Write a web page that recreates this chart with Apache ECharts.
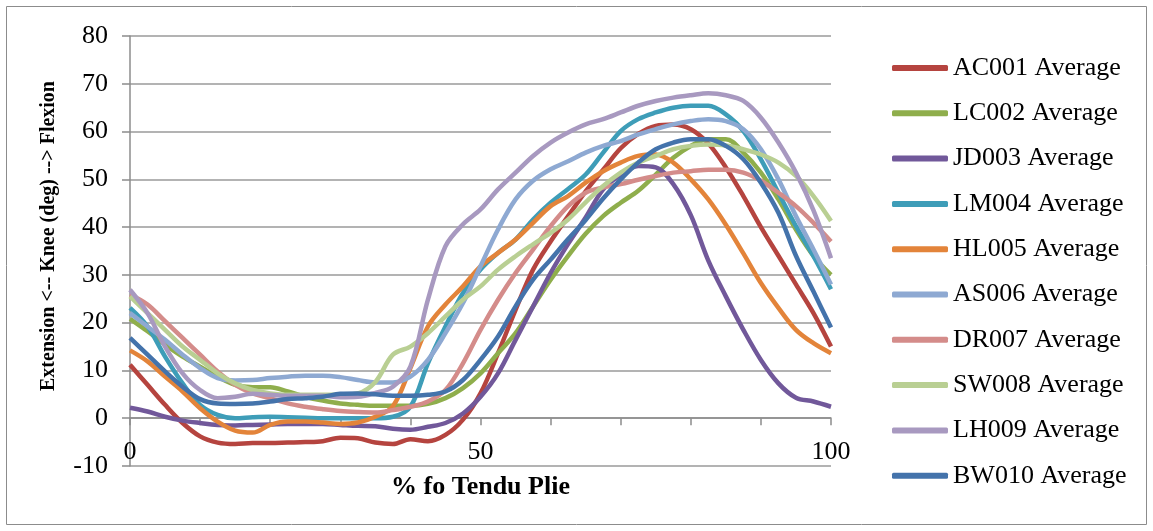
<!DOCTYPE html>
<html>
<head>
<meta charset="utf-8">
<title>% fo Tendu Plie</title>
<script src="https://cdn.jsdelivr.net/npm/echarts@6/dist/echarts.min.js"></script>
<style>
  html, body { margin: 0; padding: 0; background: #fff; }
  #chart { width: 1153px; height: 531px; }
</style>
</head>
<body>
<div id="chart"></div>
<script>
// % of the tendu plie cycle
const pct = [0, 2.5, 5, 7.5, 10, 12.5, 15, 17.5, 20, 22.5, 25, 27.5, 30, 32.5, 35, 37.5, 40, 42.5, 45, 47.5,
  50, 52.5, 55, 57.5, 60, 62.5, 65, 67.5, 70, 72.5, 75, 77.5, 80, 82.5, 85, 87.5, 90, 92.5, 95, 97.5, 100]

// knee angle (deg)
const ac001 = [11.2, 7, 2.8, -1, -3.8, -5.1, -5.4, -5.2, -5.2, -5.1, -5, -4.8, -4.1, -4.2, -5.1, -5.4, -4.4, -4.8, -3.5, -0.3,
  5.2, 13.6, 22.7, 31.1, 37, 42.3, 47.5, 52, 56.5, 59.5, 61.2, 61.5, 60.5, 57.5, 52.5, 46.5, 40, 34, 28, 22, 15]
const lc002 = [20.8, 18.2, 15.4, 12.9, 10.8, 8.7, 7, 6.5, 6.5, 5.6, 4.5, 3.7, 3.1, 2.8, 2.6, 2.6, 2.6, 3, 4.2, 6.3,
  9.4, 13.6, 17.8, 23.4, 29, 34, 38.6, 42.3, 45.1, 47.6, 51, 54.5, 57, 58.4, 58.4, 55.6, 51.4, 45.8, 39.5, 34, 30]
const jd003 = [2.2, 1.4, 0.3, -0.5, -1, -1.4, -1.5, -1.4, -1.3, -1.2, -1.2, -1.2, -1.4, -1.6, -1.7, -2.2, -2.4, -1.8, -1, 1,
  4.5, 9.4, 16.4, 23.4, 30.4, 36.5, 42, 47.9, 51, 52.8, 52.5, 49, 42.5, 33, 25.5, 18.5, 12.2, 7.3, 4.3, 3.5, 2.4]
const lm004 = [23.1, 19.2, 12.9, 7.3, 2.8, 0.7, 0, 0.2, 0.3, 0.2, 0.1, 0, 0, 0, 0, 0.3, 2.4, 11.5, 19.2, 26.2,
  31.1, 34.6, 37.4, 41.6, 45.1, 48, 51, 55.6, 60.1, 62.6, 64, 65, 65.4, 65.4, 63.6, 60.1, 54.2, 47.2, 40.2, 33.9, 27]
const hl005 = [14.2, 11.9, 8.7, 5.6, 2.1, -0.7, -2.6, -3, -1.4, -0.7, -0.7, -0.9, -1.2, -0.9, 0.3, 2.5, 10.5, 19.2, 23.8, 27.6,
  31.8, 34.6, 37.4, 40.9, 44.4, 46.5, 49.3, 51.7, 53.5, 54.9, 55.2, 53.5, 50, 45.8, 40.5, 34.5, 28.3, 23.1, 18.5, 15.7, 13.6]
const as006 = [22, 19.2, 16.4, 13.3, 10.5, 8.4, 7.9, 8, 8.4, 8.7, 8.9, 8.9, 8.6, 8, 7.5, 7.5, 8.7, 12.2, 17.8, 24.1,
  31.8, 39.5, 45.8, 49.7, 52.1, 53.8, 55.6, 57, 58, 59.4, 60.5, 61.5, 62.2, 62.6, 62.2, 60.5, 56.3, 50, 42.3, 35.3, 28]
const dr007 = [25.9, 23.8, 20.3, 16.8, 13.3, 9.8, 7, 5.2, 4.2, 3.1, 2.4, 1.9, 1.5, 1.3, 1.2, 1.7, 2.4, 3.5, 5.9, 11.5,
  18.5, 24.8, 30.4, 35.3, 40.2, 44.4, 47.2, 48.3, 49, 49.9, 50.7, 51.4, 51.7, 52, 52, 51.4, 49.7, 47.2, 44.4, 40.9, 37]
const sw008 = [25.5, 22, 18.5, 15, 12.2, 9.4, 7.3, 5.9, 5.2, 4.9, 4.9, 4.9, 4.9, 5.2, 7.6, 13.3, 15, 17.8, 21.3, 24.8,
  27.6, 31.1, 33.9, 36.4, 38.8, 41.6, 45.2, 48.6, 51.4, 53.5, 54.9, 56.3, 57, 57.3, 57.1, 56.3, 55.2, 53.5, 50.7, 46.5, 41.3]
const lh009 = [26.9, 22, 15, 9.4, 5.9, 4.2, 4.5, 5.1, 4.9, 4.7, 4.7, 4.7, 4.4, 4.5, 5.3, 6.6, 10.8, 24.8, 36, 40.6,
  43.7, 47.9, 51.4, 54.9, 57.7, 59.8, 61.5, 62.6, 64, 65.4, 66.4, 67.1, 67.6, 68, 67.6, 66.4, 62.9, 57.7, 51.4, 43.5, 33.5]
const bw010 = [16.8, 13.3, 9.8, 6.6, 4, 3.1, 3, 3.1, 3.5, 4, 4.2, 4.5, 5.1, 5.2, 5, 4.7, 4.7, 4.9, 5.6, 8,
  12.2, 17.1, 23.4, 29, 33.2, 37.5, 41.5, 46, 50, 53.5, 56.3, 57.7, 58.4, 58.4, 57, 54.2, 49.3, 43, 34, 26.5, 19]

const names = ['AC001 Average', 'LC002 Average', 'JD003 Average', 'LM004 Average', 'HL005 Average',
  'AS006 Average', 'DR007 Average', 'SW008 Average', 'LH009 Average', 'BW010 Average']
const values = [ac001, lc002, jd003, lm004, hl005, as006, dr007, sw008, lh009, bw010]
const colors = ['#b5443f', '#8fae4c', '#71589a', '#3e9db8', '#e3843a',
  '#8ea9d2', '#d48c8a', '#b9cf93', '#a899c0', '#4473ab']

const font = '"Times New Roman", "Liberation Serif", serif'

const yMin = -10
const yMax = 80
const plotTop = 36
const plotBottom = 65
const plotHeight = 531 - plotTop - plotBottom
// x axis crosses at y = 0, not at the bottom of the plot
const xAxisOffset = -plotHeight * (0 - yMin) / (yMax - yMin)

const chart = echarts.init(document.getElementById('chart'))

const option = {
  animation: false,
  color: colors,
  textStyle: { fontFamily: font, color: '#000' },
  grid: {
    left: 130,
    right: 322,
    top: plotTop,
    bottom: plotBottom,
    outerBoundsMode: 'none'
  },
  legend: {
    orient: 'vertical',
    left: 887,
    top: 50,
    icon: 'roundRect',
    itemWidth: 56,
    itemHeight: 6,
    itemGap: 19.3,
    textStyle: { fontFamily: font, fontSize: 26, color: '#000', lineHeight: 26 },
    data: names
  },
  xAxis: {
    type: 'value',
    min: 0,
    max: 100,
    interval: 10,
    offset: xAxisOffset,
    name: '% fo Tendu Plie',
    nameLocation: 'middle',
    nameGap: 56,
    nameTextStyle: { fontFamily: font, fontSize: 26, fontWeight: 'bold', color: '#000' },
    axisLine: { onZero: false, lineStyle: { color: '#8c8c8c', width: 1.5 } },
    axisTick: { show: true, length: 7, lineStyle: { color: '#8c8c8c', width: 1.5 } },
    axisLabel: {
      margin: 21,
      fontFamily: font,
      fontSize: 26,
      color: '#000',
      formatter: v => (v % 50 === 0 ? String(v) : '')
    },
    splitLine: { show: false }
  },
  yAxis: {
    type: 'value',
    min: yMin,
    max: yMax,
    interval: 10,
    axisLine: { show: true, lineStyle: { color: '#8c8c8c', width: 1.5 } },
    axisTick: { show: true, length: 8, lineStyle: { color: '#8c8c8c', width: 1.5 } },
    axisLabel: { margin: 22, fontFamily: font, fontSize: 26, color: '#000' },
    splitLine: { show: true, showMinLine: true, lineStyle: { color: '#9a9a9a', width: 1.5 } }
  },
  graphic: [
    {
      // chart area frame
      type: 'rect',
      shape: { x: 6.5, y: 6.5, width: 1140, height: 518 },
      style: { fill: 'none', stroke: '#8c8c8c', lineWidth: 1 },
      silent: true
    },
    {
      type: 'text',
      x: 49,
      y: 236,
      rotation: Math.PI / 2,
      style: {
        text: 'Extension <-- Knee (deg) --> Flexion',
        fontFamily: font,
        fontSize: 20,
        fontWeight: 'bold',
        fill: '#000',
        align: 'center',
        verticalAlign: 'middle'
      }
    }
  ],
  series: names.map((name, i) => ({
    name,
    type: 'line',
    smooth: 0.35,
    symbol: 'none',
    lineStyle: { width: 4.5, color: colors[i] },
    data: pct.map((x, j) => [x, values[i][j]])
  }))
}

chart.setOption(option)

window.addEventListener('resize', () => chart.resize())
</script>
</body>
</html>
